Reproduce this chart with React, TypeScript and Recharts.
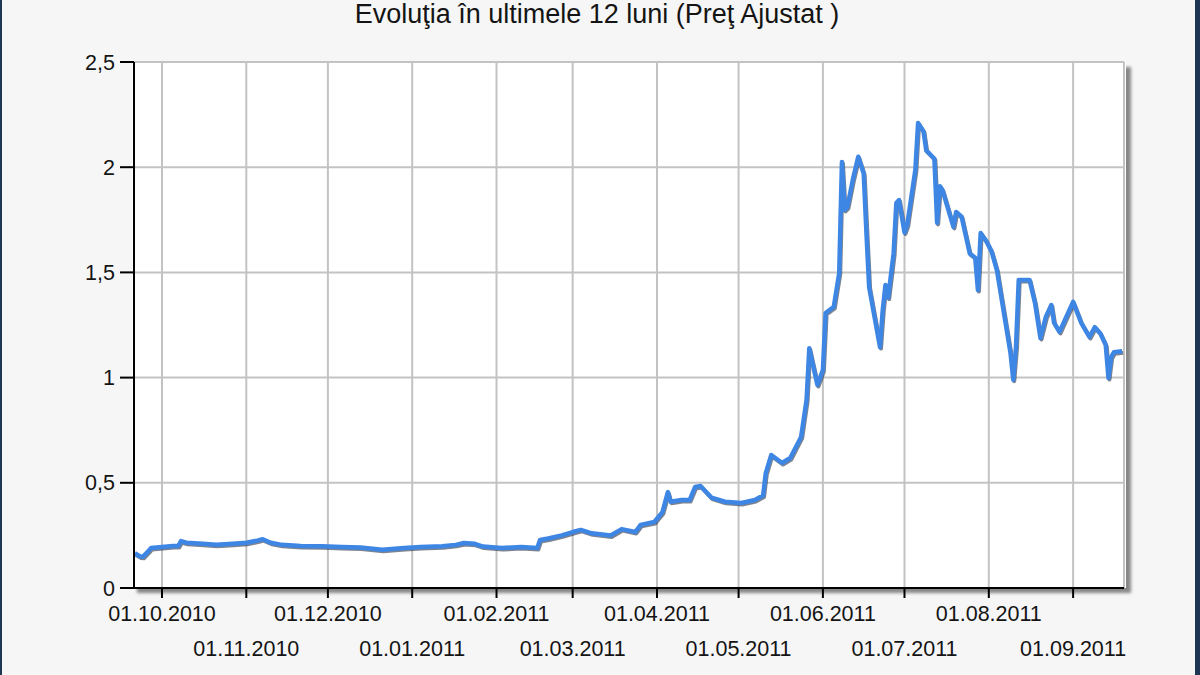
import React from "react";
import { LineChart, Line, XAxis, YAxis, CartesianGrid } from "recharts";

const TITLE = "Evoluţia în ultimele 12 luni (Preţ Ajustat )";

const dates = [
  "2010-09-21", "2010-09-23", "2010-09-24", "2010-09-26", "2010-09-27", "2010-10-01", "2010-10-05", "2010-10-07",
  "2010-10-08", "2010-10-10", "2010-10-16", "2010-10-21", "2010-10-27", "2010-11-01", "2010-11-05", "2010-11-07",
  "2010-11-10", "2010-11-14", "2010-11-21", "2010-11-29", "2010-12-06", "2010-12-13", "2010-12-21", "2010-12-29",
  "2011-01-04", "2011-01-12", "2011-01-17", "2011-01-20", "2011-01-24", "2011-01-27", "2011-02-03", "2011-02-10",
  "2011-02-16", "2011-02-17", "2011-02-20", "2011-02-25", "2011-03-01", "2011-03-04", "2011-03-08", "2011-03-15",
  "2011-03-19", "2011-03-24", "2011-03-26", "2011-03-31", "2011-04-03", "2011-04-05", "2011-04-06", "2011-04-10",
  "2011-04-13", "2011-04-15", "2011-04-17", "2011-04-21", "2011-04-26", "2011-05-02", "2011-05-07", "2011-05-10",
  "2011-05-11", "2011-05-13", "2011-05-17", "2011-05-20", "2011-05-24", "2011-05-26", "2011-05-27", "2011-05-28",
  "2011-05-30", "2011-06-01", "2011-06-02", "2011-06-05", "2011-06-07", "2011-06-08", "2011-06-09", "2011-06-10",
  "2011-06-12", "2011-06-14", "2011-06-16", "2011-06-17", "2011-06-18", "2011-06-22", "2011-06-23", "2011-06-24",
  "2011-06-25", "2011-06-27", "2011-06-28", "2011-06-29", "2011-07-01", "2011-07-02", "2011-07-05", "2011-07-06",
  "2011-07-08", "2011-07-09", "2011-07-12", "2011-07-13", "2011-07-14", "2011-07-15", "2011-07-19", "2011-07-20",
  "2011-07-22", "2011-07-25", "2011-07-27", "2011-07-28", "2011-07-29", "2011-07-31", "2011-08-02", "2011-08-04",
  "2011-08-09", "2011-08-10", "2011-08-11", "2011-08-12", "2011-08-16", "2011-08-18", "2011-08-20", "2011-08-22",
  "2011-08-24", "2011-08-25", "2011-08-27", "2011-09-01", "2011-09-04", "2011-09-07", "2011-09-09", "2011-09-11",
  "2011-09-13", "2011-09-14", "2011-09-15", "2011-09-16", "2011-09-19",
];

const prices = [
  0.165, 0.15, 0.148, 0.175, 0.19, 0.195, 0.2, 0.2,
  0.223, 0.215, 0.21, 0.205, 0.21, 0.215, 0.225, 0.232,
  0.215, 0.205, 0.2, 0.198, 0.195, 0.192, 0.182, 0.19,
  0.195, 0.198, 0.205, 0.214, 0.21, 0.197, 0.19, 0.195,
  0.19, 0.228, 0.235, 0.25, 0.266, 0.276, 0.26, 0.25,
  0.28, 0.266, 0.3, 0.314, 0.36, 0.456, 0.41, 0.418,
  0.418, 0.48, 0.485, 0.43, 0.41, 0.404, 0.418, 0.44,
  0.546, 0.632, 0.594, 0.618, 0.718, 0.894, 1.14, 1.08,
  0.965, 1.036, 1.307, 1.336, 1.497, 2.025, 1.797, 1.81,
  1.94, 2.05, 1.97, 1.69, 1.43, 1.145, 1.32, 1.44,
  1.38, 1.59, 1.83, 1.844, 1.69, 1.725, 1.987, 2.21,
  2.17, 2.08, 2.04, 1.735, 1.91, 1.89, 1.716, 1.787,
  1.765, 1.59, 1.57, 1.416, 1.687, 1.65, 1.6, 1.51,
  1.115, 0.99, 1.145, 1.464, 1.464, 1.354, 1.188, 1.29,
  1.345, 1.26, 1.217, 1.36, 1.26, 1.193, 1.24, 1.21,
  1.155, 0.998, 1.098, 1.12, 1.125,
];

const xTickLabels = [
  "01.10.2010", "01.11.2010", "01.12.2010", "01.01.2011", "01.02.2011", "01.03.2011",
  "01.04.2011", "01.05.2011", "01.06.2011", "01.07.2011", "01.08.2011", "01.09.2011",
];

const yTicks = [0, 0.5, 1, 1.5, 2, 2.5];

const parseIso = (s: string) => {
  const [y, m, d] = s.split("-").map(Number);
  return Date.UTC(y, m - 1, d);
};
const parseDotted = (s: string) => {
  const [d, m, y] = s.split(".").map(Number);
  return Date.UTC(y, m - 1, d);
};

const data = dates.map((d, i) => ({ t: parseIso(d), v: prices[i] }));
const xTicks = xTickLabels.map(parseDotted);
const labelByTick: Record<number, string> = {};
xTicks.forEach((t, i) => (labelByTick[t] = xTickLabels[i]));

const xDomain = [Date.UTC(2010, 8, 20, 17), Date.UTC(2011, 8, 19, 17)];

const FONT = "'Liberation Sans', Arial, sans-serif";
const TICK_COLOR = "#141414";

const XTick = (props: any) => {
  const { x, y, payload, index } = props;
  const lower = index % 2 === 1;
  return (
    <text
      x={x}
      y={y}
      dy={lower ? 56 : 21}
      textAnchor="middle"
      fill={TICK_COLOR}
      fontSize={21.5}
      fontFamily={FONT}
    >
      {labelByTick[payload.value]}
    </text>
  );
};

const PLOT = { left: 132, top: 62, right: 1124, bottom: 588 };

export default function App() {
  return (
    <div
      style={{
        position: "absolute",
        left: 0,
        top: 0,
        width: 1200,
        height: 675,
        background: "#f6f6f6",
        overflow: "hidden",
        boxSizing: "border-box",
        borderLeft: "2px solid #1f3554",
      }}
    >
      <style>{`.line-shadow .recharts-curve { transform: translate(1px, 1.5px); }`}</style>
      <div
        style={{
          position: "absolute",
          right: 0,
          top: 0,
          width: 5,
          height: 675,
          background: "#1f3554",
        }}
      />
      <div
        style={{
          position: "absolute",
          left: 0,
          top: 1,
          width: 1190,
          textAlign: "center",
          fontFamily: FONT,
          fontSize: 27,
          lineHeight: "27px",
          color: "#141414",
          whiteSpace: "nowrap",
        }}
      >
        {TITLE}
      </div>
      <div
        style={{
          position: "absolute",
          left: PLOT.left - 2,
          top: PLOT.top,
          width: PLOT.right - PLOT.left + 2,
          height: PLOT.bottom - PLOT.top,
          background: "#ffffff",
          boxShadow: "5px 5px 3px rgba(0,0,0,0.45)",
        }}
      />
      <div style={{ position: "absolute", left: -2, top: 0 }}>
        <LineChart
          width={1200}
          height={675}
          data={data}
          margin={{ top: PLOT.top, right: 1200 - PLOT.right, bottom: 0, left: 0 }}
        >
          <CartesianGrid stroke="#c3c3c3" strokeWidth={2} />
          <XAxis
            dataKey="t"
            type="number"
            scale="linear"
            domain={xDomain}
            ticks={xTicks}
            interval={0}
            height={675 - PLOT.bottom}
            tickSize={10}
            tickLine={{ stroke: "#000", strokeWidth: 2 }}
            axisLine={{ stroke: "#000", strokeWidth: 2 }}
            tick={<XTick />}
            allowDataOverflow
          />
          <YAxis
            type="number"
            domain={[0, 2.5]}
            ticks={yTicks}
            interval={0}
            width={PLOT.left + 2}
            tickSize={14}
            tickMargin={5}
            tickLine={{ stroke: "#000", strokeWidth: 2 }}
            axisLine={{ stroke: "#000", strokeWidth: 2 }}
            tick={{ fill: TICK_COLOR, fontSize: 21.5, fontFamily: FONT }}
            tickFormatter={(v: number) => String(v).replace(".", ",")}
          />
          <Line
            className="line-shadow"
            type="linear"
            dataKey="v"
            stroke="rgba(20,30,50,0.55)"
            strokeWidth={4}
            strokeLinejoin="round"
            dot={false}
            isAnimationActive={false}
          />
          <Line
            type="linear"
            dataKey="v"
            stroke="#3e86e4"
            strokeWidth={4.5}
            strokeLinejoin="round"
            dot={false}
            isAnimationActive={false}
          />
        </LineChart>
      </div>
    </div>
  );
}
